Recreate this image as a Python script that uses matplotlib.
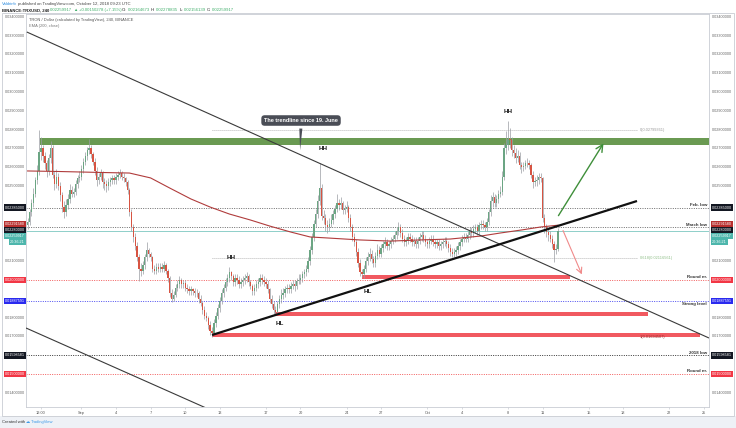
import matplotlib
matplotlib.use("Agg")
import matplotlib.pyplot as plt
import matplotlib.transforms as mtransforms
from matplotlib.patches import Rectangle
import numpy as np

plt.rcParams["font.family"] = ["Liberation Sans", "DejaVu Sans"]

# ---------------------------------------------------------------------------
# TRX/USD 240-minute candles (prices in thousandths of a dollar)
# first bar opens Aug 27 08:00; time axis is days since Sep 1 00:00
# ---------------------------------------------------------------------------
first_bar_day = -4 - 2 / 3
first_open = 22.9
closes = [
    23.1, 23.6, 24.1, 24.6, 25.3, 25.8, 26.8, 27.0, 26.6, 26.2,
    25.8, 26.5, 27.0, 25.6, 25.1, 25.5, 25.0, 24.5, 23.9, 23.6,
    24.0, 24.3, 24.8, 24.6, 24.7, 25.1, 25.4, 25.5, 25.9, 26.3,
    26.6, 26.9, 27.0, 26.7, 26.3, 25.8, 25.3, 25.5, 25.7, 25.2,
    25.1, 25.0, 25.2, 25.3, 25.4, 25.3, 25.5, 25.6, 25.7, 25.5,
    25.4, 25.2, 24.8, 23.6, 22.8, 22.3, 21.8, 21.2, 20.6, 20.5,
    20.8, 21.2, 21.6, 21.4, 21.2, 20.6, 20.5, 20.7, 20.6, 20.7,
    20.6, 20.8, 20.5, 20.1, 19.3, 19.0, 19.2, 19.6, 19.8, 20.0,
    19.8, 19.85, 19.6, 19.5, 19.4, 19.5, 19.4, 19.3, 19.3, 19.0,
    18.8, 18.4, 18.1, 18.0, 17.6, 17.3, 17.2, 17.7, 18.1, 18.5,
    18.9, 19.3, 19.6, 19.9, 20.1, 20.4, 20.2, 19.9, 20.1, 20.0,
    19.8, 19.9, 20.0, 20.1, 20.2, 19.9, 19.7, 19.4, 19.6, 19.8,
    19.9, 20.1, 20.0, 19.9, 19.8, 19.5, 19.0, 18.7, 18.4, 18.3,
    18.7, 19.0, 19.2, 19.3, 19.5, 19.6, 19.5, 19.7, 19.8, 19.7,
    19.95, 20.0, 20.1, 20.3, 20.4, 20.6, 21.0, 21.6, 22.3, 23.0,
    23.5, 24.2, 24.9, 23.4, 23.3, 22.9, 22.8, 23.0, 23.2, 23.5,
    23.8, 24.1, 24.0, 24.1, 23.7, 23.8, 23.9, 23.3, 22.8, 22.3,
    22.0, 21.5, 20.9, 20.4, 20.3, 20.6, 21.0, 21.2, 21.4, 21.1,
    20.9, 21.3, 21.6, 21.4, 21.7, 21.9, 22.0, 21.8, 21.9, 22.1,
    22.2, 22.4, 22.6, 22.8, 22.5, 22.2, 22.0, 22.1, 22.3, 22.2,
    22.0, 22.1, 21.9, 22.1, 22.3, 22.4, 22.2, 22.0, 21.9, 22.1,
    22.2, 22.0, 21.9, 22.0, 21.8, 21.9, 22.0, 22.1, 21.9, 21.7,
    21.5, 21.4, 21.5, 21.6, 21.8, 22.0, 22.2, 22.3, 22.2, 22.4,
    22.6, 22.5, 22.7, 22.8, 22.6, 22.9, 23.0, 22.9, 22.8, 23.1,
    23.6, 24.2, 24.4, 24.1, 24.3, 24.6, 24.7, 25.5, 27.0, 27.2,
    27.5, 27.45, 26.9, 26.75, 26.5, 26.6, 26.1, 26.0, 26.05, 26.2,
    26.25, 26.1, 25.6, 25.2, 25.25, 25.3, 25.5, 25.4, 23.3, 22.8,
    22.55, 22.4, 22.2, 21.9, 21.6, 21.64673, 22.59917,
]
highs = [
    23.3, 23.8, 24.3, 24.9, 25.5, 26.1, 28.0, 27.6, 27.2, 26.8,
    26.4, 26.7, 27.4, 27.2, 25.8, 25.9, 25.7, 25.2, 24.7, 24.2,
    24.3, 24.6, 25.1, 25.0, 24.9, 25.3, 25.6, 25.8, 26.1, 26.5,
    26.8, 27.1, 27.5, 27.2, 26.8, 26.5, 26.0, 25.7, 25.9, 25.8,
    25.4, 25.3, 25.4, 25.5, 25.6, 25.6, 25.7, 25.8, 25.9, 25.8,
    25.7, 25.5, 25.3, 24.9, 23.8, 23.0, 22.5, 22.0, 21.4, 20.9,
    21.0, 21.4, 22.0, 21.7, 21.5, 21.3, 20.8, 20.9, 20.9, 20.9,
    20.9, 21.0, 20.9, 20.6, 20.2, 19.5, 19.4, 19.8, 20.0, 20.2,
    20.1, 20.0, 20.0, 19.8, 19.7, 19.7, 19.6, 19.6, 19.5, 19.4,
    19.2, 18.9, 18.6, 18.3, 18.1, 17.8, 17.5, 17.9, 18.3, 18.7,
    19.1, 19.5, 19.8, 20.1, 20.3, 20.7, 20.5, 20.3, 20.3, 20.3,
    20.2, 20.1, 20.2, 20.3, 20.4, 20.3, 20.0, 19.8, 19.8, 20.0,
    20.1, 20.3, 20.3, 20.2, 20.1, 20.0, 19.6, 19.2, 18.9, 18.6,
    18.9, 19.2, 19.5, 19.6, 19.7, 19.8, 19.8, 19.9, 20.0, 20.0,
    20.1, 20.3, 20.3, 20.5, 20.6, 20.8, 21.2, 21.8, 22.5, 23.2,
    23.8, 24.5, 26.2, 25.1, 23.7, 23.5, 23.2, 23.3, 23.5, 23.7,
    24.0, 24.6, 24.3, 24.4, 24.2, 24.0, 24.2, 24.0, 23.5, 23.0,
    22.5, 22.2, 21.7, 21.1, 20.6, 20.8, 21.2, 21.5, 21.7, 21.6,
    21.3, 21.5, 21.9, 21.8, 21.9, 22.1, 22.3, 22.2, 22.1, 22.3,
    22.4, 22.6, 22.8, 23.1, 23.0, 22.7, 22.4, 22.3, 22.5, 22.5,
    22.4, 22.3, 22.3, 22.3, 22.5, 22.6, 22.6, 22.4, 22.2, 22.3,
    22.4, 22.4, 22.2, 22.2, 22.2, 22.1, 22.2, 22.3, 22.3, 22.1,
    21.9, 21.7, 21.7, 21.8, 22.0, 22.2, 22.4, 22.5, 22.5, 22.6,
    22.8, 22.8, 22.9, 23.0, 23.0, 23.1, 23.2, 23.2, 23.1, 23.3,
    23.8, 24.5, 24.7, 24.6, 24.5, 24.8, 25.0, 25.8, 27.3, 27.9,
    28.45, 28.1, 27.6, 27.2, 27.0, 26.9, 26.8, 26.3, 26.3, 26.4,
    26.5, 26.4, 26.2, 25.8, 25.5, 25.6, 25.7, 25.7, 25.5, 23.5,
    23.0, 22.8, 22.6, 22.4, 22.1, 21.9, 22.78835,
]
lows = [
    22.7, 22.9, 23.4, 23.9, 24.4, 25.1, 25.6, 26.4, 26.3, 25.9,
    25.5, 25.6, 26.2, 25.4, 24.8, 24.9, 24.8, 24.2, 23.6, 23.3,
    23.4, 23.8, 24.1, 24.4, 24.4, 24.5, 24.9, 25.2, 25.3, 25.7,
    26.1, 26.4, 26.7, 26.5, 26.1, 25.6, 25.0, 25.1, 25.3, 24.9,
    24.8, 24.7, 24.8, 25.0, 25.1, 25.1, 25.1, 25.3, 25.4, 25.3,
    25.2, 25.0, 24.6, 23.4, 22.6, 22.0, 21.6, 21.0, 19.95, 20.2,
    20.3, 20.6, 21.0, 21.2, 21.0, 20.4, 20.3, 20.3, 20.4, 20.4,
    20.4, 20.4, 20.3, 19.9, 19.1, 18.85, 18.9, 19.1, 19.4, 19.6,
    19.6, 19.6, 19.4, 19.3, 19.2, 19.2, 19.2, 19.1, 19.1, 18.8,
    18.6, 18.2, 17.9, 17.8, 17.4, 17.1, 16.95, 17.1, 17.5, 17.9,
    18.3, 18.7, 19.1, 19.4, 19.7, 19.9, 20.0, 19.7, 19.7, 19.8,
    19.6, 19.6, 19.7, 19.8, 19.9, 19.7, 19.5, 19.2, 19.2, 19.4,
    19.6, 19.7, 19.8, 19.7, 19.6, 19.3, 18.8, 18.5, 18.2, 18.15,
    18.2, 18.5, 18.8, 19.0, 19.1, 19.3, 19.3, 19.3, 19.5, 19.4,
    19.5, 19.8, 19.8, 19.9, 20.1, 20.2, 20.4, 20.8, 21.4, 22.1,
    22.8, 23.3, 24.0, 23.2, 23.0, 22.6, 22.5, 22.6, 22.8, 23.0,
    23.3, 23.6, 23.7, 23.8, 23.5, 23.5, 23.6, 23.1, 22.6, 22.1,
    21.8, 21.3, 20.7, 20.2, 20.15, 20.1, 20.4, 20.8, 21.0, 20.9,
    20.7, 20.7, 21.1, 21.2, 21.2, 21.5, 21.7, 21.6, 21.6, 21.7,
    21.9, 22.0, 22.2, 22.4, 22.3, 22.0, 21.8, 21.8, 21.9, 22.0,
    21.8, 21.8, 21.7, 21.7, 21.9, 22.1, 22.0, 21.8, 21.7, 21.7,
    21.9, 21.8, 21.7, 21.7, 21.6, 21.6, 21.7, 21.8, 21.7, 21.5,
    21.3, 21.2, 21.2, 21.3, 21.4, 21.6, 21.8, 22.0, 22.0, 22.0,
    22.2, 22.3, 22.3, 22.5, 22.4, 22.4, 22.7, 22.7, 22.6, 22.6,
    22.9, 23.4, 23.9, 23.9, 23.9, 24.1, 24.4, 24.5, 25.3, 26.7,
    26.9, 27.0, 26.6, 26.5, 26.2, 26.3, 25.9, 25.7, 25.8, 25.9,
    26.0, 25.9, 25.4, 24.9, 25.0, 25.0, 25.1, 25.2, 23.1, 22.5,
    22.3, 22.1, 22.0, 21.7, 20.95, 21.4, 21.56139,
]

# EMA(200, close) sampled at bar indices
ema_bar = [0, 17, 38, 53, 64, 74, 85, 95, 105, 116, 126, 137, 147, 157,
           173, 189, 204, 220, 236, 246, 257, 267, 276]
ema_val = [25.80, 25.77, 25.72, 25.69, 25.43, 24.89, 24.31, 23.88, 23.51,
           23.19, 22.87, 22.55, 22.29, 22.23, 22.13, 22.07, 22.13, 22.18,
           22.34, 22.50, 22.66, 22.82, 22.9158]

# horizontal price levels (USD)
feb_low = 0.02385
march_low = 0.0228
round_20 = 0.02
strong_level = 0.01887591
low_2018 = 0.01598581
round_15 = 0.015
last_close = 0.02259917

# Fibonacci retracement
fib_start_day = 11.33
fib_end_day = 48.3
fib_high = 0.02799361
fib_low = 0.01694507
fib_levels = [0, 0.618, 1]

# zones: (start day, end day, lower price, upper price)
supply_zone = (-3.59, 54.5, 0.027181, 0.027553)
demand_zones = [
    (24.35, 42.38, 0.020053, 0.020266),
    (16.79, 49.15, 0.018085, 0.018298),
    (11.33, 53.65, 0.016968, 0.017181),
]

# trendlines: ((day, price), (day, price))
channel_upper = ((-4.735, 0.033191), (54.435, 0.016915))
channel_lower = ((-4.805, 0.017447), (10.72, 0.013218))
support_line = ((11.33, 0.017074), (48.19, 0.024202))
bull_arrow = ((41.25, 0.023298), (45.41, 0.027394))
bear_arrow = ((41.68, 0.022766), (43.5, 0.02016))

# swing labels: (text, day, price)
swing_labels = [
    ("HH", 20.95, 0.027021),
    ("HH", 12.98, 0.021223),
    ("HH", 37.0, 0.028989),
    ("HL", 17.22, 0.017713),
    ("HL", 24.86, 0.019362),
]
callout_text = "The trendline since 19. June"
callout_box = (19.05, 0.028484)
callout_tip = (18.96, 0.026755)

# time axis ticks
tick_days = [-3.5, 0, 3, 6, 9, 12, 16, 19, 23, 26, 30, 33, 37, 40, 44, 47, 51, 54]
tick_labels = ["12:00", "Sep", "4", "7", "10", "13", "17", "20", "24", "27",
               "Oct", "4", "8", "11", "15", "18", "22", "25"]
price_ticks = [0.014, 0.015, 0.016, 0.017, 0.018, 0.019, 0.020, 0.021, 0.022,
               0.023, 0.024, 0.025, 0.026, 0.027, 0.028, 0.029, 0.030, 0.031,
               0.032, 0.033, 0.034]

# ---------------------------------------------------------------------------
W, H = 736, 428
fig = plt.figure(figsize=(W / 100, H / 100), dpi=100)
fig.patch.set_facecolor("white")


def fx(px):
    return px / W


def fy(py):
    return 1 - py / H


PL, PR, PT, PB = 26, 709, 14, 407
ax = fig.add_axes([fx(PL), fy(PB), (PR - PL) / W, (PB - PT) / H])
ax.set_xlim(-4.805, 54.435)
ax.set_ylim(0.013245, 0.034149)
ax.set_facecolor("white")
for s in ax.spines.values():
    s.set_color("#c9ccd3")
    s.set_linewidth(0.6)

# footer band and outer frame
fig.patches.append(Rectangle((0, 0), 1, fy(416), transform=fig.transFigure,
                             fc="#eef1f6", ec="none", zorder=-5))
fig.patches.append(Rectangle((fx(2), fy(416)), fx(732), fy(13) - fy(416),
                             transform=fig.transFigure, fc="none",
                             ec="#c9ccd3", lw=0.6, zorder=-4))

UP, DOWN, WICK = "#6ba583", "#d75442", "#9a9ca3"
n = len(closes)
t = first_bar_day + np.arange(n) / 6.0
c = np.array(closes) * 1e-3
o = np.concatenate([[first_open], closes[:-1]]) * 1e-3
hi = np.array(highs) * 1e-3
lo = np.array(lows) * 1e-3
col = np.where(c >= o, UP, DOWN)

# zones below candles
sx0, sx1, sy0, sy1 = supply_zone
ax.add_patch(Rectangle((sx0, sy0), sx1 - sx0, sy1 - sy0, fc="#6a9a52",
                       ec="none", zorder=2))
for x0, x1, y0, y1 in demand_zones:
    ax.add_patch(Rectangle((x0, y0), x1 - x0, y1 - y0, fc="#f04b52",
                           ec="none", alpha=0.92, zorder=2))

# horizontal levels
dot = (0, (1, 1.4))
level_lines = [
    (feb_low, "#6b6b6b", "Feb. low", "bottom"),
    (march_low, "#6b6b6b", "March low", "bottom"),
    (round_20, "#f25a5a", "Round nr.", "bottom"),
    (strong_level, "#4b4bf0", "Strong level", "top"),
    (low_2018, "#333333", "2018 low", "bottom"),
    (round_15, "#f25a5a", "Round nr.", "bottom"),
]
for price, color, name, va in level_lines:
    ax.axhline(price, color=color, lw=0.7, ls=dot, zorder=1)
    ax.text(0.997, price + (0.00004 if va == "bottom" else -0.00006), name,
            transform=mtransforms.blended_transform_factory(ax.transAxes, ax.transData),
            ha="right", va=va, fontsize=3.2, color="#333333", fontweight="bold",
            zorder=6)
ax.axhline(last_close, color="#7cc7c0", lw=0.6, zorder=1)

# Fibonacci levels
fib_colors = {0: "#9a9a9a", 0.618: "#8fbf88", 1: "#9b2d2d"}
for lvl in fib_levels:
    price = fib_high - lvl * (fib_high - fib_low)
    if lvl != 1:
        ax.plot([fib_start_day, fib_end_day], [price, price], color="#a0a0a0",
                lw=0.6, ls=dot, zorder=1)
    ax.text(fib_end_day + 0.15, price, f"{lvl:g}({price:.8f})", fontsize=2.8,
            color=fib_colors[lvl], va="center", ha="left", zorder=6)

# candles
ax.vlines(t, lo, hi, colors=WICK, lw=0.5, zorder=3)
body_lo = np.minimum(o, c)
body_h = np.maximum(np.abs(c - o), 0.00003)
ax.bar(t, body_h, bottom=body_lo, width=0.115, color=col, lw=0, zorder=4)

# EMA 200
ax.plot(first_bar_day + np.array(ema_bar) / 6.0, np.array(ema_val) * 1e-3,
        color="#b03c3c", lw=0.8, zorder=5)

# trendlines
for (a, b), lw, colr in [(channel_upper, 0.8, "#3a3a3a"),
                         (channel_lower, 0.8, "#3a3a3a"),
                         (support_line, 1.6, "#111111")]:
    ax.plot([a[0], b[0]], [a[1], b[1]], color=colr, lw=lw, zorder=6,
            solid_capstyle="butt")

ax.annotate("", xy=bull_arrow[1], xytext=bull_arrow[0],
            arrowprops=dict(arrowstyle="->,head_length=0.5,head_width=0.25",
                            color="#3f8f3a", lw=1.0), zorder=7)
ax.annotate("", xy=bear_arrow[1], xytext=bear_arrow[0],
            arrowprops=dict(arrowstyle="->,head_length=0.4,head_width=0.2",
                            color="#f08a8a", lw=0.8), zorder=7)

for txt, d, p in swing_labels:
    ax.text(d, p, txt, fontsize=4.6, fontweight="bold", color="#222222",
            ha="center", va="center", zorder=8)

ax.annotate(callout_text, xy=callout_tip, xytext=callout_box,
            fontsize=4.0, fontweight="bold", color="white", ha="center",
            va="center", zorder=9,
            bbox=dict(boxstyle="round,pad=0.5,rounding_size=0.6",
                      fc="#4a4d56", ec="none"),
            arrowprops=dict(arrowstyle="wedge,tail_width=0.55,shrink_factor=0.5",
                            fc="#4a4d56", ec="none", relpos=(0.5, 0.0)))

# legend text in plot
ax.text(fx(29 - PL) * W / (PR - PL), 1 - (20 - PT) / (PB - PT),
        "TRON / Dollar (calculated by TradingView), 240, BINANCE",
        transform=ax.transAxes, fontsize=2.9, color="#555555", va="center")
ax.text(fx(29 - PL) * W / (PR - PL), 1 - (26 - PT) / (PB - PT),
        "EMA (200, close)", transform=ax.transAxes, fontsize=2.9,
        color="#777777", va="center")

# time axis
ax.set_xticks(tick_days)
ax.set_xticklabels(tick_labels)
ax.tick_params(axis="x", labelsize=2.8, colors="#c9ccd3", labelcolor="#555555",
               length=1.5, width=0.5, pad=1.2)
ax.set_yticks([])

# price scale labels on both sides
tr = mtransforms.blended_transform_factory(ax.transAxes, ax.transData)
rx = (712 - PL) / (PR - PL)
lx = (25 - PL) / (PR - PL)
px_per_price = 18800.0
boxes = [
    (feb_low, f"{feb_low:.8f}", "#131722"),
    (ema_val[-1] * 1e-3, f"{ema_val[-1] * 1e-3:.8f}", "#b8302f"),
    (march_low, f"{march_low:.8f}", "#131722"),
    (last_close, f"{last_close:.8f}", "#4db6ac"),
    (None, "20:36:21", "#4db6ac"),
    (round_20, f"{round_20:.8f}", "#f23645"),
    (strong_level, f"{strong_level:.8f}", "#2a2aef"),
    (low_2018, f"{low_2018:.8f}", "#131722"),
    (round_15, f"{round_15:.8f}", "#f23645"),
]
placed = []
prev = None
spacing = 6.0 / px_per_price
for price, label, colr in boxes:
    if price is None:
        disp = prev - spacing
    elif prev is not None and prev - price < spacing:
        disp = prev - spacing
    else:
        disp = price + (1.0 / px_per_price if prev is not None and prev - price < 3 * spacing else 0)
    prev = disp
    placed.append((disp, label, colr))

for disp, label, colr in placed:
    for xpos, ha in [(rx, "left"), (lx, "right")]:
        ax.text(xpos, disp, label, transform=tr, ha=ha, va="center",
                fontsize=2.7, color="white", clip_on=False, zorder=10,
                bbox=dict(boxstyle="square,pad=0.35", fc=colr, ec="none"))

occupied = [d for d, _, _ in placed]
for p in price_ticks:
    if any(abs(p - d) < 4.5 / px_per_price for d in occupied):
        continue
    for xpos, ha in [(rx, "left"), (lx, "right")]:
        ax.text(xpos, p, f"{p:.8f}", transform=tr, ha=ha, va="center",
                fontsize=2.7, color="#666666", clip_on=False)

# header
renderer = fig.canvas.get_renderer()


def runs(x, y, parts, size=3.1):
    for txt, colr, weight in parts:
        tt = fig.text(fx(x), fy(y), txt, fontsize=size, color=colr,
                      fontweight=weight, va="center", ha="left")
        bb = tt.get_window_extent(renderer)
        x += bb.width + 1.0


runs(2, 4, [("Valdrinb", "#2e8de0", "normal"),
            ("published on TradingView.com, October 12, 2018 09:23 UTC",
             "#444444", "normal")])
G = "#3fae6a"
runs(2, 10, [("BINANCE:TRXUSD, 240", "#222222", "bold"),
             ("0.02259917", G, "normal"), ("\u25b2", G, "normal"),
             ("+0.00150278 (+7.15%)", G, "normal"),
             ("O:", "#222222", "normal"), ("0.02164673", G, "normal"),
             ("H:", "#222222", "normal"), ("0.02278835", G, "normal"),
             ("L:", "#222222", "normal"), ("0.02156139", G, "normal"),
             ("C:", "#222222", "normal"), ("0.02259917", G, "normal")])

# footer
runs(2, 422, [("Created with", "#333333", "normal"),
              ("\u2601", "#3d9be9", "normal"),
              ("TradingView", "#3d9be9", "normal")], size=3.0)

fig.savefig("out.png", dpi=100)
